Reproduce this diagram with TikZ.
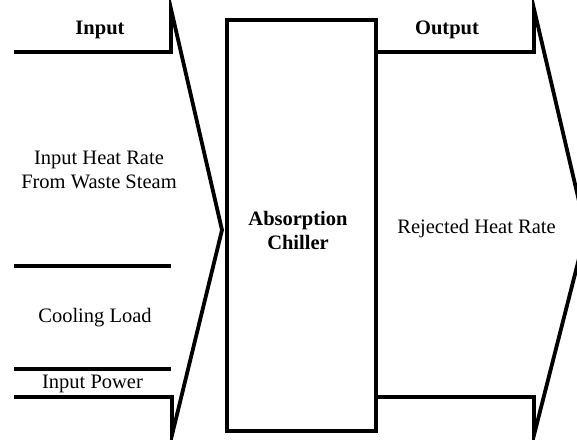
\documentclass[tikz,border=0pt]{standalone}
\usepackage{fontspec}
\setmainfont{Liberation Serif}
\begin{document}
\begin{tikzpicture}[x=1pt,y=-1pt,
  thick line/.style={line width=3.8pt, line join=miter, line cap=rect},
  lbl/.style={font=\fontsize{20.5}{24}\selectfont, align=center, inner sep=0pt},
  hdr/.style={font=\fontsize{20.5}{24}\selectfont\bfseries, inner sep=0pt}]
\useasboundingbox (0,0) rectangle (577,439);
\begin{scope}
\clip (0,0) rectangle (577,439);
% left input arrow
\draw[thick line] (16,52) -- (171,52) -- (171,9) -- (222,230) -- (172,435) -- (172,397) -- (16,397);
\draw[thick line] (16,266) -- (169,266);
\draw[thick line] (16,369) -- (169,369);
% chiller box
\node[draw, line width=4.2pt, minimum width=149pt, minimum height=411pt, inner sep=0pt] (chiller) at (301.5,225.5) {};
% right output arrow
\coordinate (otop) at (378,52);
\coordinate (obot) at (378,397);
\draw[thick line] (otop) -- (534,52) -- (534,9) -- (586,231) -- (534,435) -- (534,397) -- (obot);
\end{scope}
% labels
\node[hdr] (in) at (100,30) {Input};
\node[hdr] (out) at (447,30) {Output};
\node[lbl] (heat) at (99,170) {Input Heat Rate\\From Waste Steam};
\node[lbl] (cool) at (95,318) {Cooling Load};
\node[lbl] (pow) at (92.5,384) {Input Power};
\node[hdr, align=center] (chtext) at (298,230) {Absorption\\Chiller};
\node[lbl] (rej) at (476.5,229) {Rejected Heat Rate};
\end{tikzpicture}
\end{document}
